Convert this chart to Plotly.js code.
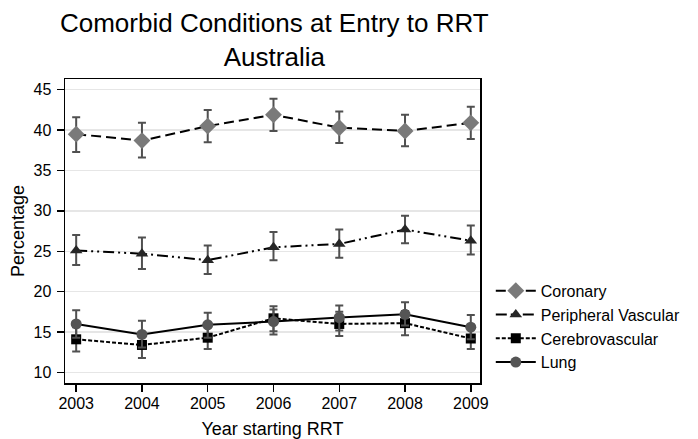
<!DOCTYPE html>
<html>
<head>
<meta charset="utf-8">
<script src="https://cdn.plot.ly/plotly-3.0.1.min.js"></script>
<style>
  html, body { margin: 0; padding: 0; background: #fff; }
  #chart { width: 698px; height: 439px; }
</style>
</head>
<body>
<div id="chart"></div>
<script>
// Year of starting renal replacement therapy
var years = [2003, 2004, 2005, 2006, 2007, 2008, 2009];

// Percentage of new patients with each comorbidity, with 95% confidence limits
var coronary      = [39.5, 38.7, 40.5, 41.9, 40.3, 39.9, 40.9];
var coronaryLo    = [37.3, 36.6, 38.5, 39.9, 38.4, 38.0, 38.9];
var coronaryHi    = [41.6, 40.9, 42.5, 43.9, 42.3, 41.9, 42.9];

var peripheral    = [25.1, 24.7, 23.9, 25.5, 25.9, 27.7, 26.3];
var peripheralLo  = [23.3, 22.8, 22.2, 23.9, 24.2, 26.0, 24.6];
var peripheralHi  = [27.0, 26.7, 25.7, 27.4, 27.7, 29.4, 28.2];

var cerebro       = [14.1, 13.4, 14.3, 16.7, 16.0, 16.1, 14.2];
var cerebroLo     = [12.6, 11.8, 12.9, 15.1, 14.5, 14.6, 12.9];
var cerebroHi     = [15.6, 15.0, 15.8, 18.2, 17.5, 17.6, 15.6];

var lung          = [16.0, 14.7, 15.9, 16.3, 16.8, 17.2, 15.6];
var lungLo        = [14.3, 13.1, 14.3, 14.7, 15.2, 15.8, 14.1];
var lungHi        = [17.7, 16.4, 17.4, 17.8, 18.3, 18.7, 17.1];

var seriesNames = ['Coronary', 'Peripheral Vascular', 'Cerebrovascular', 'Lung'];

function diff(a, b) { return a.map(function (v, i) { return Math.abs(v - b[i]); }); }

function series(name, y, lo, hi, marker, dash) {
  return {
    type: 'scatter',
    mode: 'lines+markers',
    name: name,
    x: years,
    y: y,
    line: { color: '#000000', width: 2, dash: dash },
    marker: marker,
    error_y: {
      type: 'data',
      symmetric: false,
      array: diff(hi, y),
      arrayminus: diff(y, lo),
      color: '#505050',
      thickness: 2,
      width: 4
    }
  };
}

var traces = [
  series(seriesNames[0], coronary, coronaryLo, coronaryHi,
         { symbol: 'diamond', size: 13, color: '#7a7a7a' }, '10px,5px'),
  series(seriesNames[1], peripheral, peripheralLo, peripheralHi,
         { symbol: 'triangle-up', size: 11, color: '#262626' }, '11px,4px,2px,4px,2px,4px'),
  series(seriesNames[2], cerebro, cerebroLo, cerebroHi,
         { symbol: 'square', size: 10, color: '#000000' }, '4px,2px'),
  series(seriesNames[3], lung, lungLo, lungHi,
         { symbol: 'circle', size: 11, color: '#555555' }, 'solid')
];

var fontFamily = 'Liberation Sans, Arial, sans-serif';

var layout = {
  width: 698,
  height: 439,
  paper_bgcolor: '#ffffff',
  plot_bgcolor: '#ffffff',
  margin: { l: 65, r: 214, t: 79, b: 56 },
  font: { family: fontFamily, color: '#000000', size: 16 },
  title: {
    text: 'Comorbid Conditions at Entry to RRT<br>Australia',
    font: { family: fontFamily, size: 26, color: '#000000' },
    x: 0.393, xanchor: 'center',
    y: 0.926, yanchor: 'top'
  },
  xaxis: {
    range: [2002.83, 2009.14],
    tickvals: years,
    ticktext: years.map(String),
    ticks: 'outside', ticklen: 7, tickwidth: 1.5, tickcolor: '#000000',
    ticklabelstandoff: -2,
    showgrid: false, zeroline: false,
    showline: true, linecolor: '#000000', linewidth: 1.5, mirror: true,
    tickfont: { size: 16 },
    title: { text: 'Year starting RRT', font: { size: 18 }, standoff: 11 }
  },
  yaxis: {
    range: [8.69, 46.33],
    tickvals: [10, 15, 20, 25, 30, 35, 40, 45],
    ticks: 'outside', ticklen: 7, tickwidth: 1.5, tickcolor: '#000000',
    ticklabelstandoff: 2,
    showgrid: true, gridcolor: '#e6e6e6', gridwidth: 1.5, zeroline: false,
    showline: true, linecolor: '#000000', linewidth: 1.5, mirror: true,
    tickfont: { size: 16 },
    title: { text: 'Percentage', font: { size: 18 }, standoff: 4 }
  },
  showlegend: true,
  legend: {
    x: 1.026, xanchor: 'left',
    y: 0.185, yanchor: 'middle',
    font: { size: 16 },
    itemwidth: 40,
    bgcolor: 'rgba(0,0,0,0)'
  }
};

Plotly.newPlot('chart', traces, layout, { displayModeBar: false, staticPlot: true });
</script>
</body>
</html>
